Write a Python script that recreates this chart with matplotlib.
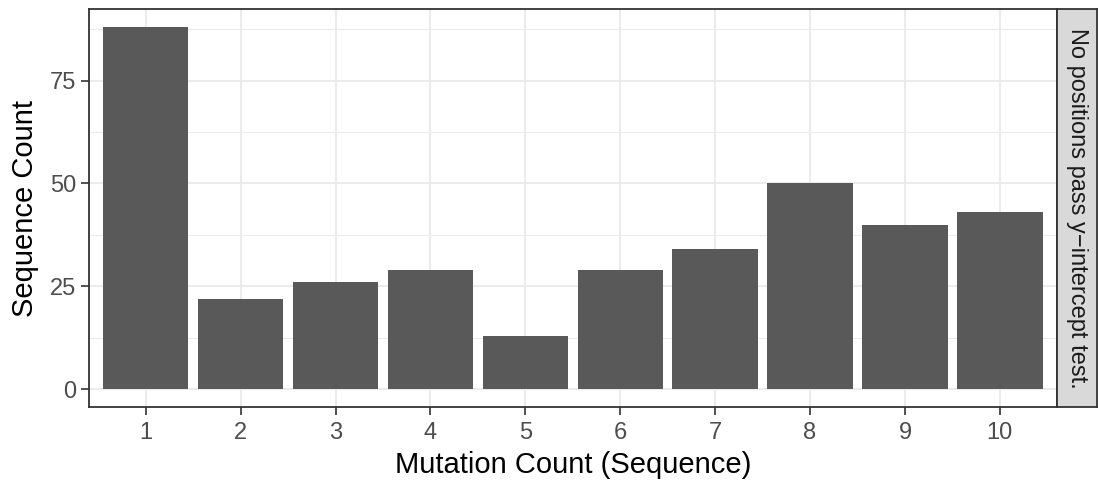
import matplotlib
matplotlib.use("Agg")
import matplotlib.pyplot as plt

plt.rcParams['font.family'] = ['Liberation Sans', 'DejaVu Sans']

mutations = [1, 2, 3, 4, 5, 6, 7, 8, 9, 10]
counts = [88, 22, 26, 29, 13, 29, 34, 50, 40, 43]
strip_label = "No positions pass y\u2212intercept test."

W, H = 1098, 484
fig = plt.figure(figsize=(W / 100, H / 100), dpi=100)

# panel box in pixels
pl, pr, pt, pb = 88.8, 1056.8, 9.0, 407.3
ax = fig.add_axes([pl / W, 1 - pb / H, (pr - pl) / W, (pb - pt) / H])

ax.bar(mutations, counts, width=0.9, color="#595959", zorder=3)

ax.set_xlim(0.4, 10.6)
ax.set_ylim(-4.4, 92.4)
ax.set_xticks(mutations)
ax.set_yticks([0, 25, 50, 75])
ax.set_yticks([12.5, 37.5, 62.5, 87.5], minor=True)

ax.grid(which="major", color="#EBEBEB", linewidth=1.5, zorder=0)
ax.grid(which="minor", axis="y", color="#EBEBEB", linewidth=0.75, zorder=0)
ax.tick_params(which="minor", length=0)
ax.tick_params(which="major", length=5.5, width=1.2, color="#333333",
               labelsize=17, labelcolor="#4D4D4D", pad=3.5)
ax.tick_params(axis="x", pad=5)
for s in ax.spines.values():
    s.set_color("#333333")
    s.set_linewidth(1.3)

ax.set_xlabel("Mutation Count (Sequence)", fontsize=21, color="black", labelpad=5)
ax.set_ylabel("Sequence Count", fontsize=21, color="black", labelpad=8)

# facet strip on the right
sl, sr = 1056.8, 1096.8
sax = fig.add_axes([sl / W, 1 - pb / H, (sr - sl) / W, (pb - pt) / H])
sax.set_xticks([])
sax.set_yticks([])
sax.set_facecolor("#D9D9D9")
for s in sax.spines.values():
    s.set_color("#333333")
    s.set_linewidth(1.3)
sax.text(0.5, 0.5, strip_label, rotation=-90, ha="center", va="center",
         fontsize=17, color="#1A1A1A", transform=sax.transAxes)

fig.savefig("out.png", dpi=100)
